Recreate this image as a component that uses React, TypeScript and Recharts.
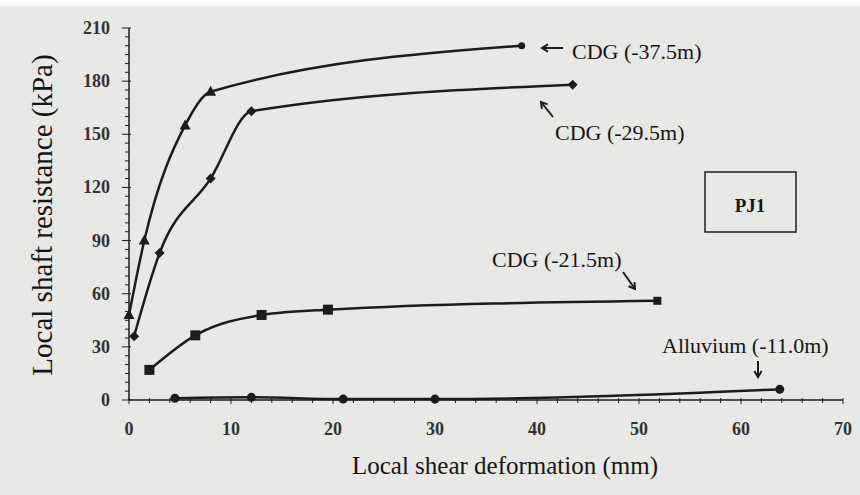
import React from 'react';
import { LineChart, Line, XAxis, YAxis } from 'recharts';

// Local shear deformation (mm) vs local shaft resistance (kPa), pile PJ1
const cdg375X = [0, 1.5, 5.5, 8, 38.5];
const cdg375Y = [48, 90, 155, 174, 200];

const cdg295X = [0.5, 3, 8, 12, 43.5];
const cdg295Y = [36, 83, 125, 163, 178];

const cdg215X = [2, 6.5, 13, 19.5, 51.8];
const cdg215Y = [17, 36.5, 48, 51, 56];

const alluviumX = [4.5, 12, 21, 30, 63.8];
const alluviumY = [1, 1.5, 0.5, 0.5, 6];

const xTicks = Array.from({ length: 36 }, (_, i) => i * 2);
const yTicks = Array.from({ length: 43 }, (_, i) => i * 5);

const INK = '#1c1c1c';
const FONT = '"Liberation Serif", "Times New Roman", serif';

const toRows = (xs: number[], ys: number[]) => xs.map((x, i) => ({ x, y: ys[i] }));

const XTick = (props: any) => {
  const { x, y, payload } = props;
  const major = payload.value % 10 === 0;
  return (
    <g>
      <line x1={x} x2={x} y1={y - 2} y2={y + (major ? 4 : 3)} stroke={INK} strokeWidth={1} />
      {major && (
        <text x={x} y={y + 35} textAnchor="middle" fontFamily={FONT} fontWeight="bold" fontSize={18} fill="#333">
          {payload.value}
        </text>
      )}
    </g>
  );
};

const YTick = (props: any) => {
  const { x, y, payload } = props;
  const major = payload.value % 30 === 0;
  return (
    <g>
      <line x1={x - (major ? 7 : 4)} x2={x + (major ? 2 : 0)} y1={y} y2={y} stroke={INK} strokeWidth={1} />
      {major && (
        <text x={x - 19} y={y + 6} textAnchor="end" fontFamily={FONT} fontWeight="bold" fontSize={18} fill="#333">
          {payload.value}
        </text>
      )}
    </g>
  );
};

const triangle = (p: any) => {
  const { cx, cy, index } = p;
  if (index === cdg375X.length - 1) return <circle key={index} cx={cx} cy={cy} r={3.5} fill={INK} />;
  return <path key={index} d={`M${cx},${cy - 6} L${cx + 5.5},${cy + 4} L${cx - 5.5},${cy + 4} Z`} fill={INK} />;
};

const diamond = (p: any) => {
  const { cx, cy, index } = p;
  return <path key={index} d={`M${cx},${cy - 5} L${cx + 5},${cy} L${cx},${cy + 5} L${cx - 5},${cy} Z`} fill={INK} />;
};

const square = (p: any) => {
  const { cx, cy, index } = p;
  const s = index === cdg215X.length - 1 ? 8 : 10;
  return <rect key={index} x={cx - s / 2} y={cy - s / 2} width={s} height={s} fill={INK} />;
};

const dot = (p: any) => <circle key={p.index} cx={p.cx} cy={p.cy} r={4.5} fill={INK} />;

const Arrow = ({ x1, y1, x2, y2 }: { x1: number; y1: number; x2: number; y2: number }) => {
  const a = Math.atan2(y2 - y1, x2 - x1);
  const h = 7;
  const l = `${x2 - h * Math.cos(a - 0.55)},${y2 - h * Math.sin(a - 0.55)}`;
  const r = `${x2 - h * Math.cos(a + 0.55)},${y2 - h * Math.sin(a + 0.55)}`;
  return (
    <g stroke={INK} strokeWidth={2} fill="none">
      <line x1={x1} y1={y1} x2={x2} y2={y2} />
      <polyline points={`${l} ${x2},${y2} ${r}`} />
    </g>
  );
};

const Annotations = () => (
  <svg width={860} height={495} style={{ position: 'absolute', left: 0, top: 0, pointerEvents: 'none' }}>
    <g fontFamily={FONT} fontSize={22} fill="#161616">
      <Arrow x1={563} y1={48} x2={542} y2={48} />
      <text x={572} y={59}>CDG (-37.5m)</text>
      <Arrow x1={553} y1={117} x2={541} y2={102} />
      <text x={555} y={140}>CDG (-29.5m)</text>
      <text x={492} y={267}>CDG (-21.5m)</text>
      <Arrow x1={623} y1={272} x2={635} y2={289} />
      <text x={662} y={353}>Alluvium (-11.0m)</text>
      <Arrow x1={758} y1={361} x2={758} y2={377} />
      <rect x={705} y={172} width={91} height={60} fill="none" stroke={INK} strokeWidth={1.5} />
      <text x={750} y={212} textAnchor="middle" fontSize={19} fontWeight="bold">PJ1</text>
      <text x={505} y={474} textAnchor="middle" fontSize={25}>Local shear deformation (mm)</text>
      <text x={0} y={0} textAnchor="middle" fontSize={29} transform="translate(52,215) rotate(-90)">
        Local shaft resistance (kPa)
      </text>
    </g>
  </svg>
);

export default function App() {
  return (
    <div style={{ position: 'absolute', left: 0, top: 0, width: 860, height: 495, background: '#e8e8e6' }}>
      <div style={{ position: 'absolute', left: 0, top: 0, width: 860, height: 6, background: '#fafafa' }} />
      <LineChart
        width={860}
        height={495}
        margin={{ top: 28, right: 17, left: 69, bottom: 65 }}
        style={{ position: 'absolute', left: 0, top: 0 }}
      >
        <XAxis
          type="number"
          dataKey="x"
          domain={[0, 70]}
          ticks={xTicks}
          interval={0}
          height={30}
          tickSize={0}
          tickMargin={0}
          tick={<XTick />}
          axisLine={{ stroke: INK, strokeWidth: 1.5 }}
          allowDuplicatedCategory={false}
        />
        <YAxis
          type="number"
          dataKey="y"
          domain={[0, 210]}
          ticks={yTicks}
          interval={0}
          width={60}
          tickSize={0}
          tickMargin={0}
          tick={<YTick />}
          axisLine={{ stroke: INK, strokeWidth: 1.5 }}
        />
        <Line data={toRows(cdg375X, cdg375Y)} dataKey="y" type="monotone" stroke={INK} strokeWidth={2.5} dot={triangle} isAnimationActive={false} />
        <Line data={toRows(cdg295X, cdg295Y)} dataKey="y" type="monotone" stroke={INK} strokeWidth={2.5} dot={diamond} isAnimationActive={false} />
        <Line data={toRows(cdg215X, cdg215Y)} dataKey="y" type="monotone" stroke={INK} strokeWidth={2.5} dot={square} isAnimationActive={false} />
        <Line data={toRows(alluviumX, alluviumY)} dataKey="y" type="monotone" stroke={INK} strokeWidth={2.5} dot={dot} isAnimationActive={false} />
      </LineChart>
      <Annotations />
    </div>
  );
}
